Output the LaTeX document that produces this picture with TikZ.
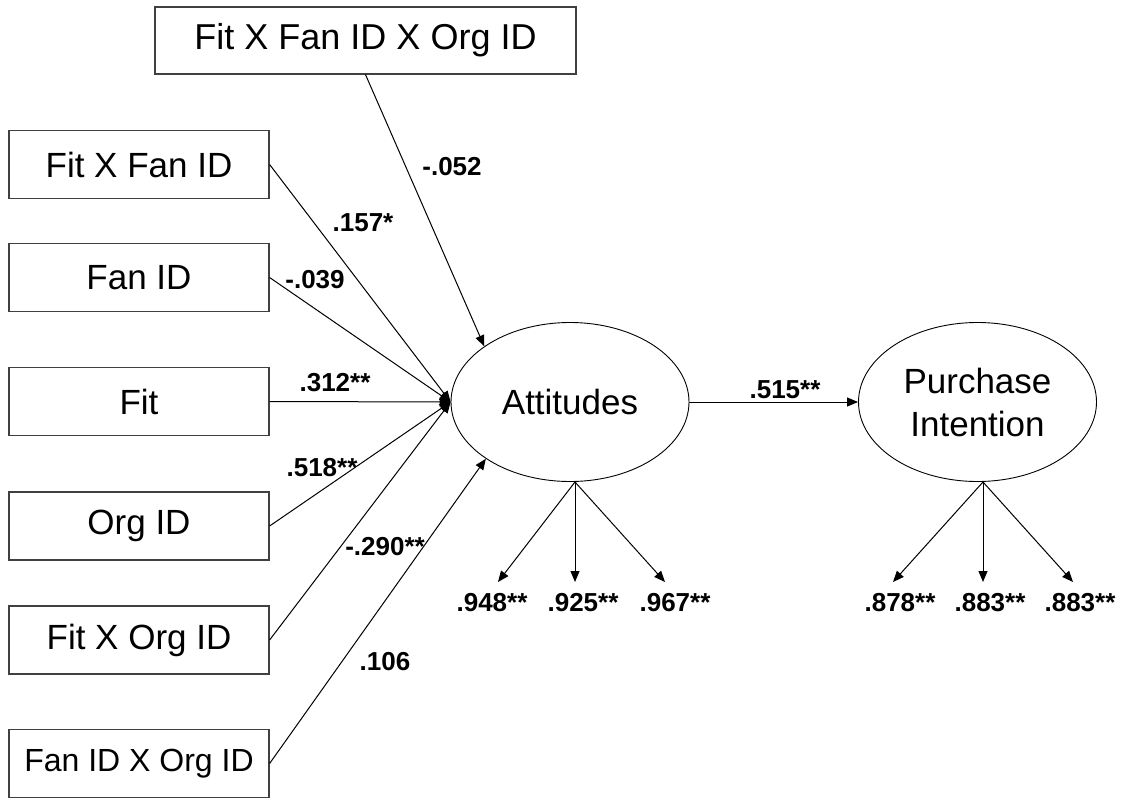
\documentclass[tikz,border=0pt]{standalone}
\usepackage{fontspec}
\setmainfont{Liberation Sans}
\usetikzlibrary{shapes.geometric,arrows.meta}
\tikzset{
  varbox/.style={draw=black!75,line width=1.2pt,minimum width=260pt,minimum height=68pt,inner sep=0pt,font=\fontsize{35}{40}\selectfont},
  latent/.style={draw,ellipse,line width=0.9pt,minimum width=238pt,minimum height=159pt,inner sep=0pt,align=center,font=\fontsize{35}{43}\selectfont},
  coef/.style={font=\fontsize{26}{30}\selectfont\bfseries,inner sep=1pt},
  effect/.style={-{Triangle[length=11pt,width=9pt]},line width=1pt},
}
\begin{document}
\begin{tikzpicture}[x=1pt,y=-1pt]%Modelo de actitudes e intencion de compra
        \useasboundingbox (0,0) rectangle (1125,798);

        \node[varbox,minimum width=421pt,minimum height=67pt,font=\fontsize{36}{40}\selectfont] (fff) at (365.5,40.5) {Fit X Fan ID X Org ID};
        \node[varbox] (ff) at (139,164.5) {Fit X Fan ID};
        \node[varbox] (fan) at (139,277.5) {Fan ID};
        \node[varbox] (fit) at (139,401.5) {Fit};
        \node[varbox] (org) at (139,526) {Org ID};
        \node[varbox] (fo) at (139,640) {Fit X Org ID};
        \node[varbox,font=\fontsize{32}{38}\selectfont] (fno) at (139,763.5) {Fan ID X Org ID};

        \node[latent] (att) at (570,402) {Attitudes};
        \node[latent] (pi) at (977.5,402) {Purchase\\Intention};

        \coordinate (a1) at (498,582);
        \coordinate (a2) at (575,582);
        \coordinate (a3) at (665,582);
        \coordinate (p1) at (893,582);
        \coordinate (p2) at (983,582);
        \coordinate (p3) at (1073,582);
        \coordinate (attB) at (575,482);
        \coordinate (piB) at (983,482);

        \draw[effect] (fff.south) -- (att.147);
        \draw[effect] (ff.east) -- (att.west);
        \draw[effect] (fan.east) -- (att.west);
        \draw[effect] (fit.east) -- (att.west);
        \draw[effect] (org.east) -- (att.west);
        \draw[effect] (fo.east) -- (att.west);
        \draw[effect] (fno.east) -- (att.214);
        \draw[effect] (att.east) -- (pi.west);

        \draw[effect] (attB) -- (a1);
        \draw[effect] (attB) -- (a2);
        \draw[effect] (attB) -- (a3);
        \draw[effect] (piB) -- (p1);
        \draw[effect] (piB) -- (p2);
        \draw[effect] (piB) -- (p3);

        \node[coef] (c1) at (452,167) {-.052};
        \node[coef] (c2) at (363,223) {.157*};
        \node[coef] (c3) at (315,280) {-.039};
        \node[coef] (c4) at (335,383) {.312**};
        \node[coef] (c5) at (322,468) {.518**};
        \node[coef] (c6) at (385,547) {-.290**};
        \node[coef] (c7) at (385,662) {.106};
        \node[coef] (c8) at (785,390) {.515**};

        \node[coef] (l1) at (492,603) {.948**};
        \node[coef] (l2) at (583,603) {.925**};
        \node[coef] (l3) at (675,603) {.967**};
        \node[coef] (l4) at (900,603) {.878**};
        \node[coef] (l5) at (990,603) {.883**};
        \node[coef] (l6) at (1080,603) {.883**};
    \end{tikzpicture}
\end{document}
